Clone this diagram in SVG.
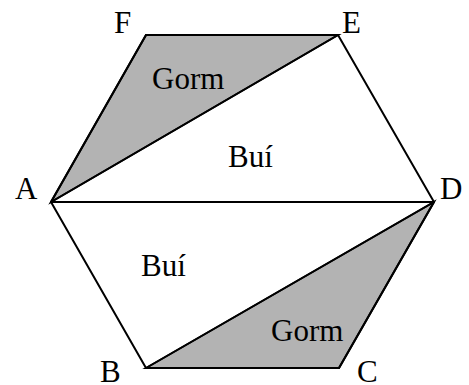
<svg xmlns="http://www.w3.org/2000/svg" width="469" height="385" viewBox="0 0 469 385">
<style>
text{font-family:"Liberation Serif","Times New Roman",serif;font-size:31px;fill:#000}
.shade{fill:#b3b3b3;stroke:#000;stroke-width:2;stroke-linejoin:miter}
.edge{fill:none;stroke:#000;stroke-width:2;stroke-linejoin:miter}
.diag{stroke:#000;stroke-width:1.5}
</style>
<rect width="469" height="385" fill="#fff"/>
<g id="regions">
<polygon id="gorm-top" class="shade" points="51,202 146,35 338,35"/>
<polygon id="gorm-bottom" class="shade" points="146,368 434,202 339,368"/>
</g>
<g id="connectors">
<polygon class="edge" points="51,202 146,35 338,35 434,202 339,368 146,368"/>
<line class="diag" x1="51" y1="202" x2="338" y2="35"/>
<line class="edge" x1="51" y1="202" x2="434" y2="202" stroke-width="2.5"/>
<line class="diag" x1="146" y1="368" x2="434" y2="202"/>
</g>
<g id="labels">
<text x="114" y="33">F</text>
<text x="342" y="33">E</text>
<text x="15" y="199">A</text>
<text x="440" y="199">D</text>
<text x="100" y="382">B</text>
<text x="357" y="382">C</text>
<text x="152" y="89">Gorm</text>
<text x="228" y="167">Buí</text>
<text x="141" y="276">Buí</text>
<text x="271" y="341">Gorm</text>
</g>
</svg>
